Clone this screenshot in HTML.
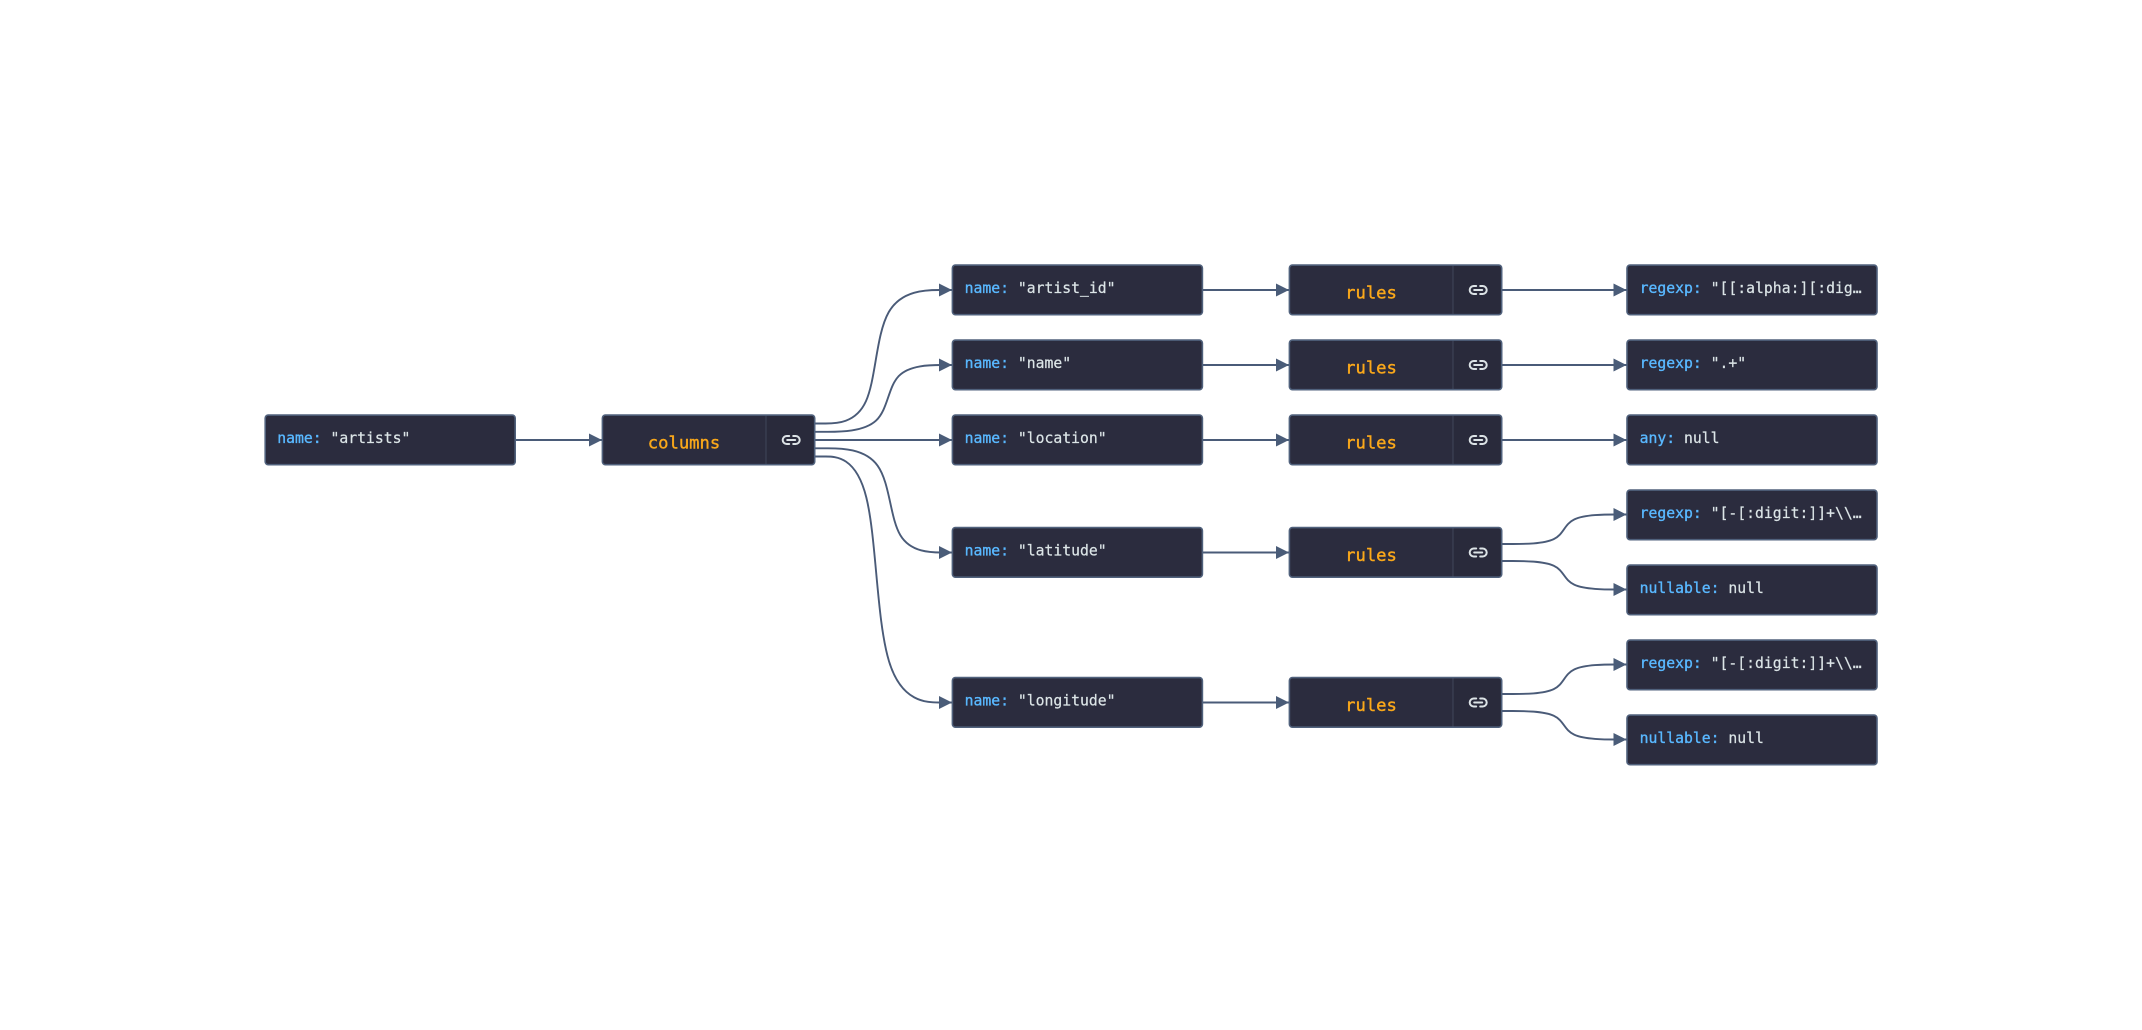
<!DOCTYPE html>
<html><head><meta charset="utf-8"><style>
html,body{margin:0;padding:0;background:#fff;width:2142px;height:1030px;overflow:hidden}
svg{display:block}
.n{fill:#2b2c3e}
.s{fill:none;stroke:#50617c;stroke-width:1.6}
.d{stroke:#3a3f52;stroke-width:1.4}
.r{fill:#292a3b}
.e{fill:none;stroke:#4a5b78;stroke-width:1.9}
.a{fill:#4a5c78}
text{font-family:"DejaVu Sans Mono","Liberation Mono",monospace;font-size:14.75px;fill:#dce5e7;stroke:#dce5e7;stroke-width:.2;white-space:pre}
tspan.k{fill:#59b8ff;stroke:#59b8ff;stroke-width:.35}
text.o{font-size:17.2px;fill:#faa81a;stroke:#faa81a;stroke-width:.4;text-anchor:middle}
.i{fill:none;stroke:#dce3e6;stroke-width:2;stroke-linecap:round;stroke-linejoin:round}
</style></head><body>
<svg width="2142" height="1030" viewBox="0 0 2142 1030" xmlns="http://www.w3.org/2000/svg">
<defs><g id="lk" class="i"><path d="M-2 4H-4.5A4 4 0 0 1 -4.5 -4H-2"/><path d="M2 -4H4.5A4 4 0 0 1 4.5 4H2"/><path d="M-4 0H4"/></g></defs>
<!-- edges -->
<path class="e" d="M515 440H602"/>
<path class="e" d="M815 440H952"/>
<path class="e" d="M815.5 423.5L825.58 423.5C835.67 423.5 855.83 423.5 865.92 401.25C876 379 876 334.5 888.67 312.25C901.33 290 926.67 290 939.33 290L952 290"/>
<path class="e" d="M815.5 431.8L827.58 431.8C839.67 431.8 863.83 431.8 875.92 420.7C888 409.5 888 387.3 898.67 376.1C909.33 365 930.67 365 941.33 365L952 365"/>
<path class="e" d="M815.5 448.3L827.9 448.3C840.3 448.3 865.2 448.3 877.6 465.7C890 483 890 517.8 900.3 535.1C910.7 552.5 931.3 552.5 941.7 552.5L952 552.5"/>
<path class="e" d="M815.5 456.5L825.67 456.5C835.83 456.5 856.17 456.5 866.33 497.5C876.5 538.5 876.5 620.5 889.08 661.5C901.67 702.5 926.83 702.5 939.42 702.5L952 702.5"/>
<path class="e" d="M1203 290H1289M1203 365H1289M1203 440H1289M1203 552.5H1289M1203 702.5H1289"/>
<path class="e" d="M1502 290H1626.5M1502 365H1626.5M1502 440H1626.5"/>
<path class="e" d="M1502 544L1512.75 544C1523 544 1543.5 544 1553.75 539.1C1564 534.2 1564 524.3 1574.4 519.4C1584.8 514.5 1605.6 514.5 1616.1 514.5L1626.5 514.5"/>
<path class="e" d="M1502 561L1512.75 561C1523 561 1543.5 561 1553.75 565.75C1564 570.5 1564 580 1574.4 584.75C1584.8 589.5 1605.6 589.5 1616.1 589.5L1626.5 589.5"/>
<path class="e" d="M1502 694L1512.75 694C1523 694 1543.5 694 1553.75 689.1C1564 684.2 1564 674.3 1574.4 669.4C1584.8 664.5 1605.6 664.5 1616.1 664.5L1626.5 664.5"/>
<path class="e" d="M1502 711L1512.75 711C1523 711 1543.5 711 1553.75 715.75C1564 720.5 1564 730 1574.4 734.75C1584.8 739.5 1605.6 739.5 1616.1 739.5L1626.5 739.5"/>
<!-- arrowheads -->
<g class="a">
<path d="M602 440L589 433.5V446.5Z"/>
<path d="M952 290L939 283.5V296.5Z"/><path d="M952 365L939 358.5V371.5Z"/><path d="M952 440L939 433.5V446.5Z"/><path d="M952 552.5L939 546V559Z"/><path d="M952 702.5L939 696V709Z"/>
<path d="M1289 290L1276 283.5V296.5Z"/><path d="M1289 365L1276 358.5V371.5Z"/><path d="M1289 440L1276 433.5V446.5Z"/><path d="M1289 552.5L1276 546V559Z"/><path d="M1289 702.5L1276 696V709Z"/>
<path d="M1626.5 290L1613.5 283.5V296.5Z"/><path d="M1626.5 365L1613.5 358.5V371.5Z"/><path d="M1626.5 440L1613.5 433.5V446.5Z"/><path d="M1626.5 514.5L1613.5 508V521Z"/><path d="M1626.5 589.5L1613.5 583V596Z"/><path d="M1626.5 664.5L1613.5 658V671Z"/><path d="M1626.5 739.5L1613.5 733V746Z"/>
</g>
<!-- root -->
<rect class="n" x="265.2" y="415.1" width="250" height="49.6" rx="3"/><rect class="s" x="265.2" y="415.1" width="250" height="49.6" rx="3"/>
<text x="277.2" y="443"><tspan class="k">name:</tspan> "artists"</text>
<!-- columns -->
<rect class="n" x="602.4" y="415.1" width="212.3" height="49.6" rx="3"/>
<rect class="r" x="766" y="415.1" width="48.7" height="49.6" rx="3"/>
<path class="d" d="M766 415.1V464.7"/>
<rect class="s" x="602.4" y="415.1" width="212.3" height="49.6" rx="3"/>
<text class="o" x="684" y="448.3">columns</text>
<use href="#lk" x="791.2" y="440"/>
<!-- name nodes -->
<rect class="n" x="952.4" y="265.1" width="250" height="49.6" rx="3"/><rect class="s" x="952.4" y="265.1" width="250" height="49.6" rx="3"/>
<text x="964.6" y="293"><tspan class="k">name:</tspan> "artist_id"</text>
<rect class="n" x="952.4" y="340.1" width="250" height="49.6" rx="3"/><rect class="s" x="952.4" y="340.1" width="250" height="49.6" rx="3"/>
<text x="964.6" y="368"><tspan class="k">name:</tspan> "name"</text>
<rect class="n" x="952.4" y="415.1" width="250" height="49.6" rx="3"/><rect class="s" x="952.4" y="415.1" width="250" height="49.6" rx="3"/>
<text x="964.6" y="443"><tspan class="k">name:</tspan> "location"</text>
<rect class="n" x="952.4" y="527.6" width="250" height="49.6" rx="3"/><rect class="s" x="952.4" y="527.6" width="250" height="49.6" rx="3"/>
<text x="964.6" y="555.5"><tspan class="k">name:</tspan> "latitude"</text>
<rect class="n" x="952.4" y="677.6" width="250" height="49.6" rx="3"/><rect class="s" x="952.4" y="677.6" width="250" height="49.6" rx="3"/>
<text x="964.6" y="705.5"><tspan class="k">name:</tspan> "longitude"</text>
<!-- rules nodes -->
<rect class="n" x="1289.4" y="265.1" width="212.3" height="49.6" rx="3"/>
<rect class="r" x="1453" y="265.1" width="48.7" height="49.6" rx="3"/>
<path class="d" d="M1453 265.1V314.7"/>
<rect class="s" x="1289.4" y="265.1" width="212.3" height="49.6" rx="3"/>
<text class="o" x="1371" y="298.3">rules</text>
<use href="#lk" x="1478.2" y="290"/>
<rect class="n" x="1289.4" y="340.1" width="212.3" height="49.6" rx="3"/>
<rect class="r" x="1453" y="340.1" width="48.7" height="49.6" rx="3"/>
<path class="d" d="M1453 340.1V389.7"/>
<rect class="s" x="1289.4" y="340.1" width="212.3" height="49.6" rx="3"/>
<text class="o" x="1371" y="373.3">rules</text>
<use href="#lk" x="1478.2" y="365"/>
<rect class="n" x="1289.4" y="415.1" width="212.3" height="49.6" rx="3"/>
<rect class="r" x="1453" y="415.1" width="48.7" height="49.6" rx="3"/>
<path class="d" d="M1453 415.1V464.7"/>
<rect class="s" x="1289.4" y="415.1" width="212.3" height="49.6" rx="3"/>
<text class="o" x="1371" y="448.3">rules</text>
<use href="#lk" x="1478.2" y="440"/>
<rect class="n" x="1289.4" y="527.6" width="212.3" height="49.6" rx="3"/>
<rect class="r" x="1453" y="527.6" width="48.7" height="49.6" rx="3"/>
<path class="d" d="M1453 527.6V577.2"/>
<rect class="s" x="1289.4" y="527.6" width="212.3" height="49.6" rx="3"/>
<text class="o" x="1371" y="560.8">rules</text>
<use href="#lk" x="1478.2" y="552.5"/>
<rect class="n" x="1289.4" y="677.6" width="212.3" height="49.6" rx="3"/>
<rect class="r" x="1453" y="677.6" width="48.7" height="49.6" rx="3"/>
<path class="d" d="M1453 677.6V727.2"/>
<rect class="s" x="1289.4" y="677.6" width="212.3" height="49.6" rx="3"/>
<text class="o" x="1371" y="710.8">rules</text>
<use href="#lk" x="1478.2" y="702.5"/>
<!-- value nodes -->
<rect class="n" x="1627" y="265.1" width="250" height="49.6" rx="3"/><rect class="s" x="1627" y="265.1" width="250" height="49.6" rx="3"/>
<text x="1639.6" y="293"><tspan class="k">regexp:</tspan> "[[:alpha:][:dig…</text>
<rect class="n" x="1627" y="340.1" width="250" height="49.6" rx="3"/><rect class="s" x="1627" y="340.1" width="250" height="49.6" rx="3"/>
<text x="1639.6" y="368"><tspan class="k">regexp:</tspan> ".+"</text>
<rect class="n" x="1627" y="415.1" width="250" height="49.6" rx="3"/><rect class="s" x="1627" y="415.1" width="250" height="49.6" rx="3"/>
<text x="1639.6" y="443"><tspan class="k">any:</tspan> null</text>
<rect class="n" x="1627" y="490.1" width="250" height="49.6" rx="3"/><rect class="s" x="1627" y="490.1" width="250" height="49.6" rx="3"/>
<text x="1639.6" y="518"><tspan class="k">regexp:</tspan> "[-[:digit:]]+\\…</text>
<rect class="n" x="1627" y="565.1" width="250" height="49.6" rx="3"/><rect class="s" x="1627" y="565.1" width="250" height="49.6" rx="3"/>
<text x="1639.6" y="593"><tspan class="k">nullable:</tspan> null</text>
<rect class="n" x="1627" y="640.1" width="250" height="49.6" rx="3"/><rect class="s" x="1627" y="640.1" width="250" height="49.6" rx="3"/>
<text x="1639.6" y="668"><tspan class="k">regexp:</tspan> "[-[:digit:]]+\\…</text>
<rect class="n" x="1627" y="715.1" width="250" height="49.6" rx="3"/><rect class="s" x="1627" y="715.1" width="250" height="49.6" rx="3"/>
<text x="1639.6" y="743"><tspan class="k">nullable:</tspan> null</text>
</svg>
</body></html>
